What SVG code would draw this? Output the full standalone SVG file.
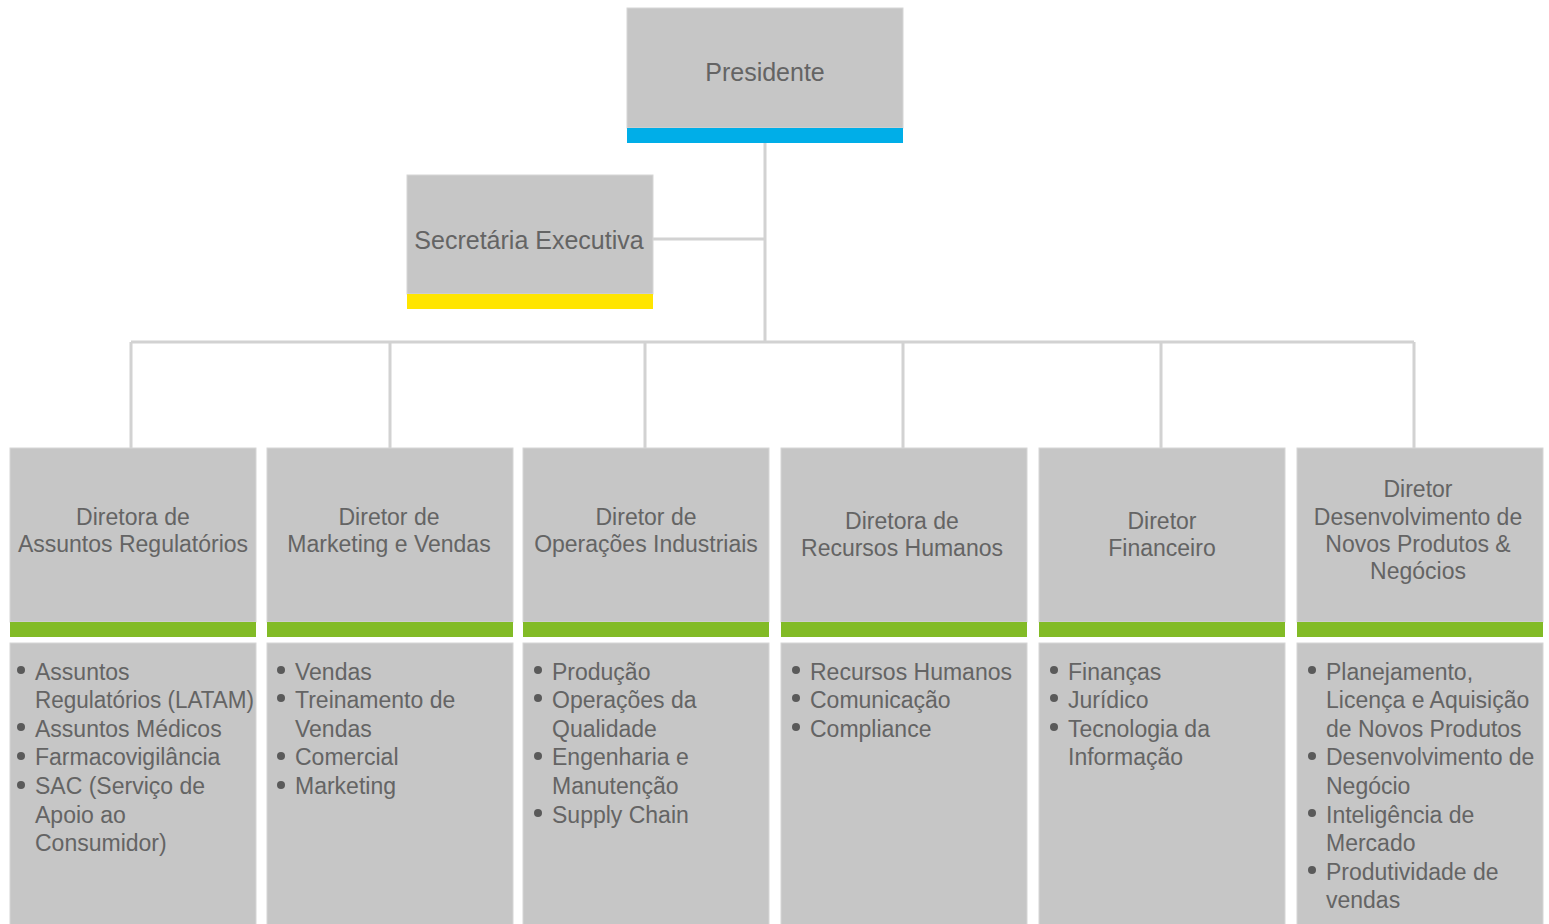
<svg xmlns="http://www.w3.org/2000/svg" width="1549" height="924" viewBox="0 0 1549 924">
  <style>
    .box { fill: #c6c6c6; stroke: #d6d6d6; stroke-width: 1; }
    .t { font-family: "Liberation Sans", Arial, sans-serif; font-size: 23px; fill: #646464; }
    .big { font-size: 25px; }
    .c { text-anchor: middle; }
    .line { stroke: #d2d2d2; stroke-width: 3; fill: none; }
    .dot { fill: #5a5a5a; }
  </style>
  <rect width="1549" height="924" fill="#ffffff"/>

  <!-- connectors -->
  <g id="connectors">
    <path class="line" d="M765 143 V342 M653 239 H765 M131 342 H1414 M131 342 V448 M390 342 V448 M645 342 V448 M903 342 V448 M1161 342 V448 M1414 342 V448"/>
  </g>

  <g id="presidente">
    <rect class="box" x="627" y="8" width="276" height="120"/>
    <rect x="627" y="128" width="276" height="15" fill="#00aee8"/>
    <text class="t big c" x="765" y="81">Presidente</text>
  </g>

  <g id="secretaria">
    <rect class="box" x="407" y="175" width="246" height="119"/>
    <rect x="407" y="294" width="246" height="15" fill="#ffe500"/>
    <text class="t big c" x="529" y="249">Secretária Executiva</text>
  </g>

  <g id="dir-regulatorios">
    <rect class="box" x="10" y="448" width="246" height="174"/>
    <rect x="10" y="622" width="246" height="15" fill="#82bb26"/>
    <rect class="box" x="10" y="643" width="246" height="290"/>
    <text class="t c" x="133" y="525">Diretora de</text>
    <text class="t c" x="133" y="552">Assuntos Regulatórios</text>
    <circle class="dot" cx="21" cy="670" r="4"/>
    <circle class="dot" cx="21" cy="727" r="4"/>
    <circle class="dot" cx="21" cy="756" r="4"/>
    <circle class="dot" cx="21" cy="785" r="4"/>
    <text class="t" x="35" y="680">Assuntos</text>
    <text class="t" x="35" y="708" textLength="219" lengthAdjust="spacingAndGlyphs">Regulatórios (LATAM)</text>
    <text class="t" x="35" y="737">Assuntos Médicos</text>
    <text class="t" x="35" y="765">Farmacovigilância</text>
    <text class="t" x="35" y="794">SAC (Serviço de</text>
    <text class="t" x="35" y="823">Apoio ao</text>
    <text class="t" x="35" y="851">Consumidor)</text>
  </g>

  <g id="dir-marketing">
    <rect class="box" x="267" y="448" width="246" height="174"/>
    <rect x="267" y="622" width="246" height="15" fill="#82bb26"/>
    <rect class="box" x="267" y="643" width="246" height="290"/>
    <text class="t c" x="389" y="525">Diretor de</text>
    <text class="t c" x="389" y="552">Marketing e Vendas</text>
    <circle class="dot" cx="281" cy="670" r="4"/>
    <circle class="dot" cx="281" cy="698" r="4"/>
    <circle class="dot" cx="281" cy="756" r="4"/>
    <circle class="dot" cx="281" cy="785" r="4"/>
    <text class="t" x="295" y="680">Vendas</text>
    <text class="t" x="295" y="708">Treinamento de</text>
    <text class="t" x="295" y="737">Vendas</text>
    <text class="t" x="295" y="765">Comercial</text>
    <text class="t" x="295" y="794">Marketing</text>
  </g>

  <g id="dir-operacoes">
    <rect class="box" x="523" y="448" width="246" height="174"/>
    <rect x="523" y="622" width="246" height="15" fill="#82bb26"/>
    <rect class="box" x="523" y="643" width="246" height="290"/>
    <text class="t c" x="646" y="525">Diretor de</text>
    <text class="t c" x="646" y="552">Operações Industriais</text>
    <circle class="dot" cx="538" cy="670" r="4"/>
    <circle class="dot" cx="538" cy="698" r="4"/>
    <circle class="dot" cx="538" cy="756" r="4"/>
    <circle class="dot" cx="538" cy="813" r="4"/>
    <text class="t" x="552" y="680">Produção</text>
    <text class="t" x="552" y="708">Operações da</text>
    <text class="t" x="552" y="737">Qualidade</text>
    <text class="t" x="552" y="765">Engenharia e</text>
    <text class="t" x="552" y="794">Manutenção</text>
    <text class="t" x="552" y="823">Supply Chain</text>
  </g>

  <g id="dir-rh">
    <rect class="box" x="781" y="448" width="246" height="174"/>
    <rect x="781" y="622" width="246" height="15" fill="#82bb26"/>
    <rect class="box" x="781" y="643" width="246" height="290"/>
    <text class="t c" x="902" y="529">Diretora de</text>
    <text class="t c" x="902" y="556">Recursos Humanos</text>
    <circle class="dot" cx="796" cy="670" r="4"/>
    <circle class="dot" cx="796" cy="698" r="4"/>
    <circle class="dot" cx="796" cy="727" r="4"/>
    <text class="t" x="810" y="680">Recursos Humanos</text>
    <text class="t" x="810" y="708">Comunicação</text>
    <text class="t" x="810" y="737">Compliance</text>
  </g>

  <g id="dir-financeiro">
    <rect class="box" x="1039" y="448" width="246" height="174"/>
    <rect x="1039" y="622" width="246" height="15" fill="#82bb26"/>
    <rect class="box" x="1039" y="643" width="246" height="290"/>
    <text class="t c" x="1162" y="529">Diretor</text>
    <text class="t c" x="1162" y="556">Financeiro</text>
    <circle class="dot" cx="1054" cy="670" r="4"/>
    <circle class="dot" cx="1054" cy="698" r="4"/>
    <circle class="dot" cx="1054" cy="727" r="4"/>
    <text class="t" x="1068" y="680">Finanças</text>
    <text class="t" x="1068" y="708">Jurídico</text>
    <text class="t" x="1068" y="737">Tecnologia da</text>
    <text class="t" x="1068" y="765">Informação</text>
  </g>

  <g id="dir-novos-produtos">
    <rect class="box" x="1297" y="448" width="246" height="174"/>
    <rect x="1297" y="622" width="246" height="15" fill="#82bb26"/>
    <rect class="box" x="1297" y="643" width="246" height="290"/>
    <text class="t c" x="1418" y="497">Diretor</text>
    <text class="t c" x="1418" y="525">Desenvolvimento de</text>
    <text class="t c" x="1418" y="552">Novos Produtos &amp;</text>
    <text class="t c" x="1418" y="579">Negócios</text>
    <circle class="dot" cx="1312" cy="670" r="4"/>
    <circle class="dot" cx="1312" cy="756" r="4"/>
    <circle class="dot" cx="1312" cy="813" r="4"/>
    <circle class="dot" cx="1312" cy="870" r="4"/>
    <text class="t" x="1326" y="680">Planejamento,</text>
    <text class="t" x="1326" y="708">Licença e Aquisição</text>
    <text class="t" x="1326" y="737">de Novos Produtos</text>
    <text class="t" x="1326" y="765">Desenvolvimento de</text>
    <text class="t" x="1326" y="794">Negócio</text>
    <text class="t" x="1326" y="823">Inteligência de</text>
    <text class="t" x="1326" y="851">Mercado</text>
    <text class="t" x="1326" y="880">Produtividade de</text>
    <text class="t" x="1326" y="908">vendas</text>
  </g>
</svg>
